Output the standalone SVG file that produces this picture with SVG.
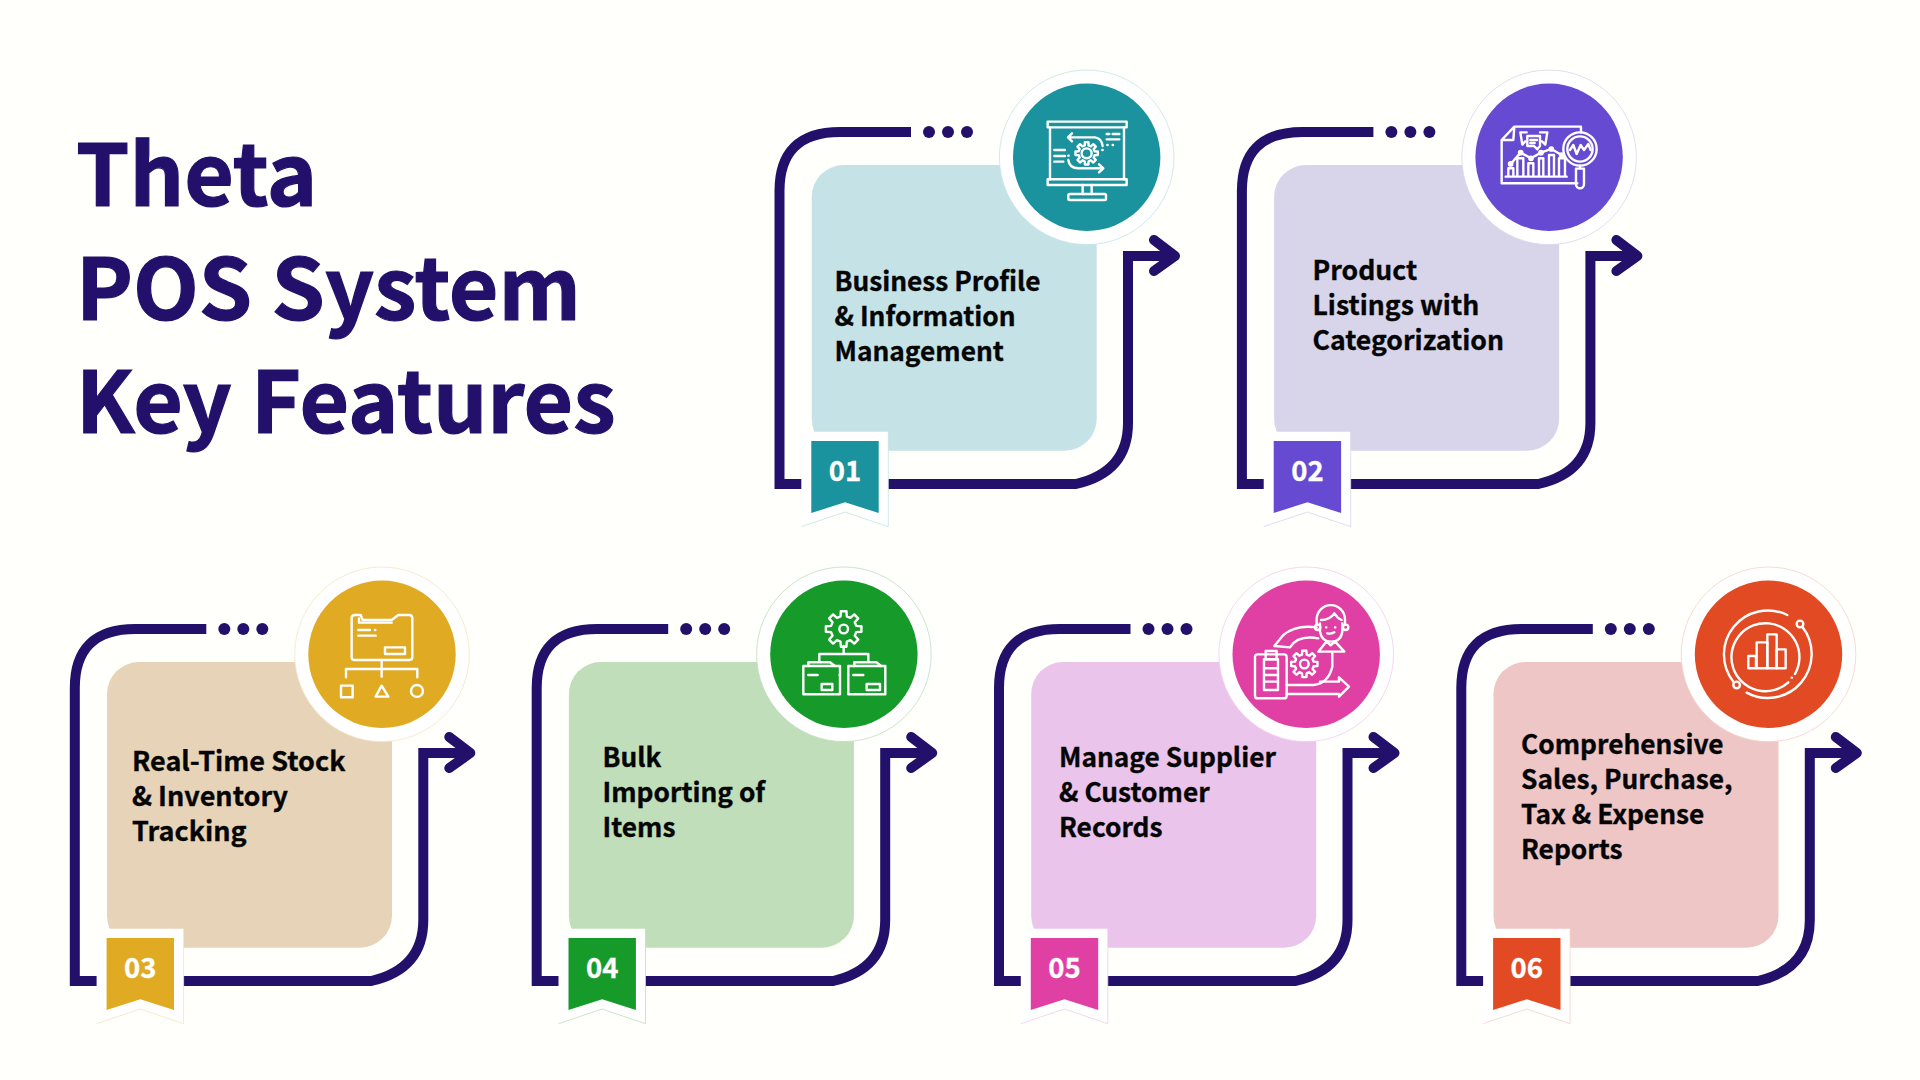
<svg xmlns="http://www.w3.org/2000/svg" width="1920" height="1080" viewBox="0 0 1920 1080">
<style>
text{font-family:"Noto Sans CJK SC","Noto Sans",sans-serif;font-weight:700}
.title{font-size:85.5px;fill:#22106b;stroke:#22106b;stroke-width:1.2}
.label{font-size:26.3px;fill:#050505;stroke:#050505;stroke-width:.35}
.label.b{font-size:26.6px}
.label.c{font-size:27px}
.num{font-size:27.5px;fill:#fff;text-anchor:middle;stroke:#fff;stroke-width:.3}
.ic{fill:none;stroke:#fff;stroke-width:7.2;stroke-linecap:round;stroke-linejoin:round}
</style>
<defs>
<g id="frame">
<path d="M911 132H840Q779 132 779.500 192V484H1076Q1128 472 1128 423V256H1171" fill="none" stroke="#22106b" stroke-width="10"/>
<path d="M1154 240L1175 256L1154 271" fill="none" stroke="#22106b" stroke-width="10" stroke-linecap="round" stroke-linejoin="round"/>
<circle cx="929" cy="132" r="6" fill="#22106b"/><circle cx="948" cy="132" r="6" fill="#22106b"/><circle cx="967" cy="132" r="6" fill="#22106b"/>
</g>
<rect id="card" x="811.700" y="165" width="285" height="285.700" rx="32"/>
<circle id="halo" cx="1086.700" cy="157.300" r="87.300" style="fill:#fff;stroke-width:.8"/>
<circle id="disc" cx="1086.700" cy="157.300" r="73.700"/>
<polygon id="badgeBack" points="801.300,431.700 888.300,431.700 888.300,526.700 845,512 801.300,526.700" fill="#fff"/>
<polyline id="badgeEdge" points="888.300,431.700 888.300,526.700 845,512 801.300,526.700" fill="none" stroke-width=".8"/>
<polygon id="badge" points="811.300,441 878.700,441 878.700,513 845,502.300 811.300,513"/>
<polygon id="gear" points="98.800,15.600 69.900,17.400 61.700,37.100 80.900,58.800 58.800,80.900 37.100,61.700 17.400,69.900 15.600,98.800 -15.600,98.800 -17.400,69.900 -37.100,61.700 -58.800,80.900 -80.900,58.800 -61.700,37.100 -69.900,17.400 -98.800,15.600 -98.800,-15.600 -69.900,-17.400 -61.700,-37.100 -80.900,-58.800 -58.800,-80.900 -37.100,-61.700 -17.400,-69.900 -15.600,-98.800 15.600,-98.800 17.400,-69.900 37.100,-61.700 58.800,-80.900 80.900,-58.800 61.700,-37.100 69.900,-17.400 98.800,-15.600" fill="none" stroke="#fff" stroke-width="2.400" stroke-linejoin="round" vector-effect="non-scaling-stroke"/>
</defs>
<rect width="1920" height="1080" fill="#fffffb"/>
<g id="title">
<text class="title" x="76" y="206">Theta</text>
<text class="title" x="76" y="319.500">POS System</text>
<text class="title" x="76" y="433">Key Features</text>
</g>
<g id="connectors">
<use href="#frame"/>
<use href="#frame" x="462.400"/>
<use href="#frame" x="-704.700" y="497"/>
<use href="#frame" x="-242.800" y="497"/>
<use href="#frame" x="219.500" y="497"/>
<use href="#frame" x="681.800" y="497"/>
</g>
<g id="node-1">
<use href="#card" fill="#c5e3e6"/>
<use href="#halo" stroke="#c5e3e6"/>
<use href="#disc" fill="#1a939f"/>
<g class="ic" transform="translate(1000 70) scale(.3333)">
<rect x="143" y="155" width="237" height="17"/><path d="M150 172V328M372 172V328"/><rect x="143" y="328" width="237" height="17"/>
<path d="M248 345V372M275 345V372"/><rect x="205" y="372" width="113" height="18" rx="4"/>
<use href="#gear" transform="translate(260 250) scale(.34)"/><circle cx="260" cy="250" r="15"/>
<path d="M205 202H285Q305 205 308 228M216 190L204 202L216 214"/>
<path d="M205 270Q208 295 235 295H308M297 283L310 295L297 307"/>
<path d="M163 240H195M163 258H195M163 275H190M320 192H328M338 192H358M320 208H358M322 225H323M338 225H339M307 240H308M205 257H206"/>
</g>
<use href="#badgeBack"/><use href="#badgeEdge" stroke="#c5e3e6"/><use href="#badge" fill="#1a939f"/>
<text class="num" x="845" y="480.500">01</text>
<text x="834.500" y="291" class="label">Business Profile</text><text x="834.500" y="326" class="label">&amp; Information</text><text x="834.500" y="361" class="label">Management</text>
</g>
<g id="node-2">
<use href="#card" x="462.400" fill="#d8d5ea"/>
<use href="#halo" x="462.400" stroke="#d8d5ea"/>
<use href="#disc" x="462.400" fill="#664ad1"/>
<g class="ic" transform="translate(1460 70) scale(.3333)">
<path d="M363 187V170H163L125 210V340H352M163 170L160 210H125"/>
<path d="M137 320H320M145 320V295H160V320M172 320V265H190V320M205 320V280H220V320M237 320V265H250V320M267 320V255H282V320M297 320V265H315V320"/>
<path d="M152 282L182 248L213 265L243 248L274 237L305 255"/>
<circle cx="152" cy="282" r="5"/><circle cx="182" cy="248" r="5"/><circle cx="213" cy="265" r="5"/><circle cx="243" cy="248" r="5"/><circle cx="274" cy="237" r="5"/><circle cx="305" cy="255" r="5"/>
<path d="M200 187H181L187 224L196 214M240 187H262L256 224L246 214"/>
<path d="M202 198H240V228L232 238L222 228H202Z"/><path d="M211 210H231M211 219H224"/>
<circle cx="360" cy="237" r="50"/><circle cx="360" cy="237" r="38"/>
<path d="M330 240L340 225L350 252L362 225L372 240L385 222L392 240"/>
<path d="M360 287V296M348 296H372V343A12 12 0 0 1 348 343Z"/>
</g>
<use href="#badgeBack" x="462.400"/><use href="#badgeEdge" x="462.400" stroke="#d8d5ea"/><use href="#badge" x="462.400" fill="#664ad1"/>
<text class="num" x="1307.400" y="480.500">02</text>
<text x="1312.500" y="279.500" class="label b">Product</text><text x="1312.500" y="314.500" class="label b">Listings with</text><text x="1312.500" y="349.500" class="label b">Categorization</text>
</g>
<g id="node-3">
<use href="#card" x="-704.700" y="497" fill="#e7d4b8"/>
<use href="#halo" x="-704.700" y="497" stroke="#f3e5c5"/>
<use href="#disc" x="-704.700" y="497" fill="#e0aa23"/>
<g class="ic" transform="translate(290 570) scale(.3333)">
<path d="M185 262V145Q185 135 195 135H212L218 150H305L325 135H358Q367 135 367 145V262Q367 270 358 270H192Q185 270 185 262Z"/>
<path d="M207 158V145M207 158H305"/>
<path d="M205 180H240M255 180H256M205 197H257"/><rect x="285" y="232" width="60" height="20"/>
<path d="M275 270V320M168 322V297H382V322"/>
<rect x="153" y="347" width="35" height="35"/><path d="M275 347L257 380H295Z"/><circle cx="381" cy="363" r="18"/>
</g>
<use href="#badgeBack" x="-704.700" y="497"/><use href="#badgeEdge" x="-704.700" y="497" stroke="#f3e5c5"/><use href="#badge" x="-704.700" y="497" fill="#e0aa23"/>
<text class="num" x="140.300" y="977.500">03</text>
<text x="132" y="771" class="label c">Real-Time Stock</text><text x="132" y="806" class="label c">&amp; Inventory</text><text x="132" y="841" class="label c">Tracking</text>
</g>
<g id="node-4">
<use href="#card" x="-242.800" y="497" fill="#bfdeb9"/>
<use href="#halo" x="-242.800" y="497" stroke="#bfdeb9"/>
<use href="#disc" x="-242.800" y="497" fill="#169b2a"/>
<g class="ic" transform="translate(755 570) scale(.3333)">
<use href="#gear" transform="translate(266 177) scale(.54)"/><circle cx="266" cy="177" r="13"/>
<path d="M266 228V252M193 275V252H340V275"/>
<path d="M145 373V288H160V277H225L240 288H255V373Z"/><path d="M160 288H240"/>
<path d="M280 373V288H298V277H365L378 288H391V373Z"/><path d="M298 288H378"/>
<rect x="200" y="342" width="32" height="18"/><rect x="335" y="342" width="40" height="18"/>
<path d="M160 315H188M295 315H325M254 315H255"/>
</g>
<use href="#badgeBack" x="-242.800" y="497"/><use href="#badgeEdge" x="-242.800" y="497" stroke="#bfdeb9"/><use href="#badge" x="-242.800" y="497" fill="#169b2a"/>
<text class="num" x="602.200" y="977.500">04</text>
<text x="602.500" y="767" class="label">Bulk</text><text x="602.500" y="802" class="label">Importing of</text><text x="602.500" y="837" class="label">Items</text>
</g>
<g id="node-5">
<use href="#card" x="219.500" y="497" fill="#eac4eb"/>
<use href="#halo" x="219.500" y="497" stroke="#f2cdea"/>
<use href="#disc" x="219.500" y="497" fill="#e03fa3"/>
<g class="ic" transform="translate(1215 570) scale(.3333)">
<path d="M305 165V148A42 42 0 0 1 390 148V165"/><path d="M318 150Q345 150 358 130Q368 145 380 150"/>
<path d="M315 160V185Q320 215 348 215Q378 215 382 185V160"/><circle cx="308" cy="172" r="8"/><circle cx="392" cy="172" r="8"/>
<path d="M333 172H334M360 172H361M337 190Q348 193 358 187"/>
<path d="M310 245L335 214L347 226L360 214L388 245Z"/>
<path d="M305 172C255 165 225 178 205 195L178 228L225 232C240 208 270 198 310 205"/>
<rect x="120" y="253" width="95" height="132" rx="8"/><rect x="147" y="268" width="42" height="92"/><rect x="152" y="243" width="33" height="25"/>
<path d="M147 295H189M147 315H189M147 335H189"/>
<use href="#gear" transform="translate(268 282) scale(.4)"/><circle cx="268" cy="282" r="13"/>
<path d="M215 345H295Q340 340 352 290V250"/><path d="M215 372H372V380L402 350L372 322V335H315"/>
</g>
<use href="#badgeBack" x="219.500" y="497"/><use href="#badgeEdge" x="219.500" y="497" stroke="#f2cdea"/><use href="#badge" x="219.500" y="497" fill="#e03fa3"/>
<text class="num" x="1064.500" y="977.500">05</text>
<text x="1059" y="767" class="label">Manage Supplier</text><text x="1059" y="802" class="label">&amp; Customer</text><text x="1059" y="837" class="label">Records</text>
</g>
<g id="node-6">
<use href="#card" x="681.800" y="497" fill="#eec6c5"/>
<use href="#halo" x="681.800" y="497" stroke="#f6d0c8"/>
<use href="#disc" x="681.800" y="497" fill="#e24a23"/>
<g class="ic" transform="translate(1680 570) scale(.3333)">
<path d="M322 135A132 132 0 0 0 160 335"/><circle cx="170" cy="345" r="10"/>
<path d="M200 368A132 132 0 0 0 368 172"/><circle cx="360" cy="162" r="10"/>
<path d="M325 337A102 102 0 1 1 345 312M335 323H336"/>
<rect x="205" y="258" width="23" height="37"/><rect x="230" y="217" width="32" height="78"/><rect x="262" y="193" width="28" height="102"/><rect x="290" y="238" width="27" height="57"/>
</g>
<use href="#badgeBack" x="681.800" y="497"/><use href="#badgeEdge" x="681.800" y="497" stroke="#f6d0c8"/><use href="#badge" x="681.800" y="497" fill="#e24a23"/>
<text class="num" x="1526.800" y="977.500">06</text>
<text x="1521" y="754" class="label">Comprehensive</text><text x="1521" y="789" class="label">Sales, Purchase,</text><text x="1521" y="824" class="label">Tax &amp; Expense</text><text x="1521" y="859" class="label">Reports</text>
</g>
</svg>
